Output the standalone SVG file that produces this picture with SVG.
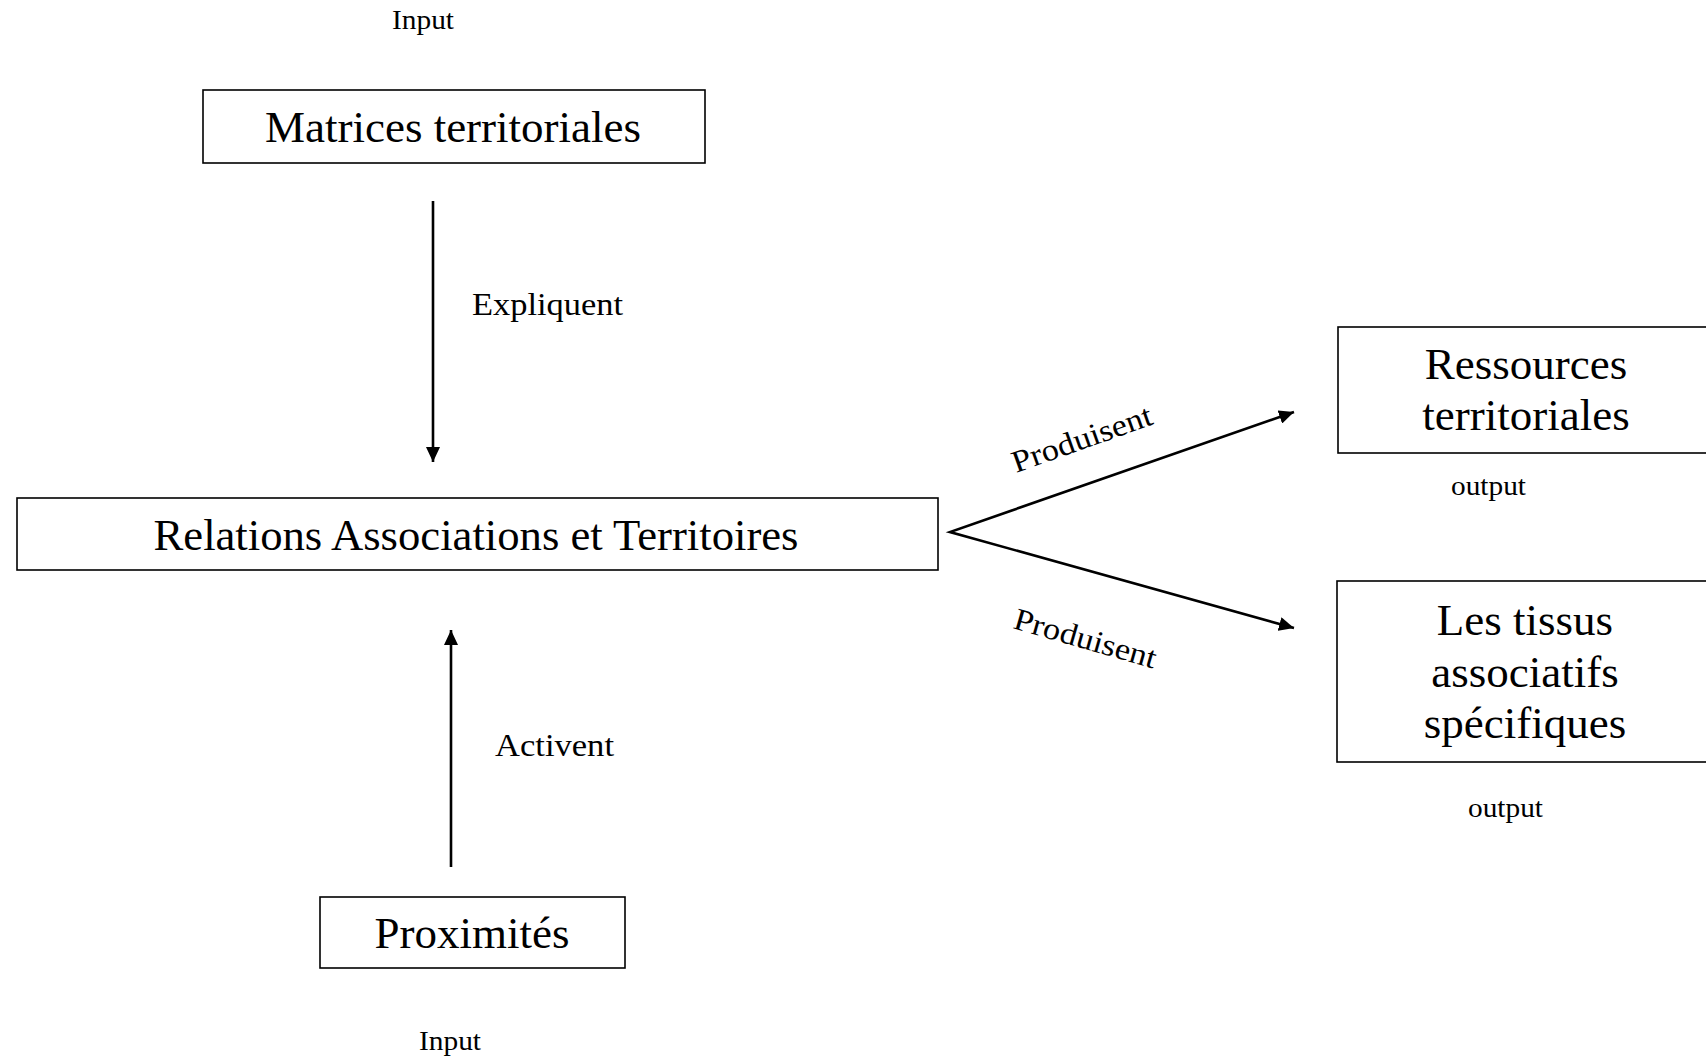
<svg xmlns="http://www.w3.org/2000/svg" width="1706" height="1056" viewBox="0 0 1706 1056">
<style>
  .box { fill: #ffffff; stroke: #000000; stroke-width: 1.6; }
  .big { font-family: "Liberation Serif", "Times New Roman", serif; font-size: 45px; fill: #000000; text-anchor: middle; }
  .lbl { font-family: "Liberation Serif", "Times New Roman", serif; font-size: 31px; fill: #000000; }
  .io { font-family: "Liberation Serif", "Times New Roman", serif; font-size: 27px; fill: #000000; }
  .conn { stroke: #000000; stroke-width: 2.6; fill: none; stroke-linejoin: miter; }
</style>
<defs>
  <marker id="arrow" markerUnits="userSpaceOnUse" markerWidth="16" markerHeight="14" refX="15" refY="7" orient="auto-start-reverse">
    <path d="M0,0 L15,7 L0,14 z" fill="#000000"/>
  </marker>
</defs>
<rect width="1706" height="1056" fill="#ffffff"/>

<g id="input-top">
  <text class="io" x="392" y="29" textLength="62" lengthAdjust="spacingAndGlyphs">Input</text>
</g>

<g id="matrices">
  <rect class="box" x="203" y="90" width="502" height="73"/>
  <text class="big" x="453" y="142">Matrices territoriales</text>
</g>

<g id="relations">
  <rect class="box" x="17" y="498" width="921" height="72"/>
  <text class="big" x="476" y="550" textLength="645" lengthAdjust="spacingAndGlyphs">Relations Associations et Territoires</text>
</g>

<g id="ressources">
  <rect class="box" x="1338" y="327" width="400" height="126"/>
  <text class="big" x="1526" y="379">Ressources</text>
  <text class="big" x="1526" y="430">territoriales</text>
</g>

<g id="output-1">
  <text class="io" x="1451" y="495" textLength="75" lengthAdjust="spacingAndGlyphs">output</text>
</g>

<g id="tissus">
  <rect class="box" x="1337" y="581" width="400" height="181"/>
  <text class="big" x="1525" y="635">Les tissus</text>
  <text class="big" x="1525" y="687">associatifs</text>
  <text class="big" x="1525" y="738">spécifiques</text>
</g>

<g id="output-2">
  <text class="io" x="1468" y="817" textLength="75" lengthAdjust="spacingAndGlyphs">output</text>
</g>

<g id="proximites">
  <rect class="box" x="320" y="897" width="305" height="71"/>
  <text class="big" x="472" y="948">Proximités</text>
</g>

<g id="input-bottom">
  <text class="io" x="419" y="1050" textLength="62" lengthAdjust="spacingAndGlyphs">Input</text>
</g>

<g id="connectors">
  <line class="conn" x1="433" y1="201" x2="433" y2="462" marker-end="url(#arrow)"/>
  <text class="lbl" x="472" y="315" textLength="151" lengthAdjust="spacingAndGlyphs">Expliquent</text>

  <line class="conn" x1="451" y1="867" x2="451" y2="630" marker-end="url(#arrow)"/>
  <text class="lbl" x="495" y="756" textLength="119" lengthAdjust="spacingAndGlyphs">Activent</text>

  <path class="conn" d="M1294,412 L950,532 L1294,628" marker-start="url(#arrow)" marker-end="url(#arrow)"/>
  <text class="lbl" x="1016" y="473" transform="rotate(-19.5 1016 473)" textLength="147" lengthAdjust="spacingAndGlyphs">Produisent</text>
  <text class="lbl" x="1012" y="628" transform="rotate(16 1012 628)" textLength="147" lengthAdjust="spacingAndGlyphs">Produisent</text>
</g>
</svg>
